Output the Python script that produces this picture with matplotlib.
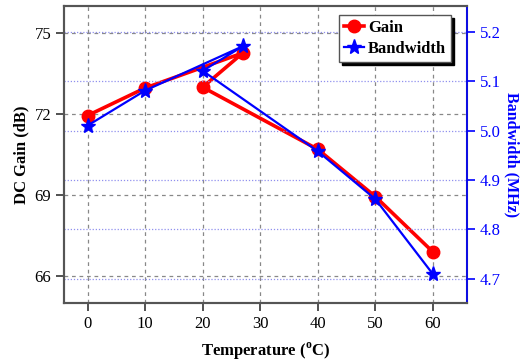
import matplotlib
matplotlib.use("Agg")
import matplotlib.pyplot as plt

temperature = [0, 10, 27, 20, 40, 50, 60]
gain_db = [71.95, 72.97, 74.27, 73.0, 70.7, 68.95, 66.9]
bandwidth_mhz = [5.01, 5.081, 5.171, 5.121, 4.958, 4.861, 4.709]
x_ticks = [0, 10, 20, 30, 40, 50, 60]
gain_ticks = [66, 69, 72, 75]
bw_ticks = [4.7, 4.8, 4.9, 5.0, 5.1, 5.2]

plt.rcParams['font.family'] = ['Liberation Serif', 'DejaVu Serif']
plt.rcParams['mathtext.fontset'] = 'custom'
plt.rcParams['mathtext.rm'] = 'Liberation Serif:bold'
plt.rcParams['mathtext.bf'] = 'Liberation Serif:bold'

fig = plt.figure(figsize=(5.2, 3.63), dpi=100)
ax = fig.add_axes([0.124, 0.1645, 0.775, 0.8185])
ax2 = ax.twinx()

spine_grey = '#555555'
for s in ax.spines.values():
    s.set_color(spine_grey)
    s.set_linewidth(1.5)
for s in ax2.spines.values():
    s.set_color(spine_grey)
    s.set_linewidth(1.5)
ax2.spines['right'].set_color('#0000ff')
ax2.spines['right'].set_linewidth(1.2)

ax.plot(temperature, gain_db, color='#ff0000', lw=2.6, marker='o', ms=9,
        label='Gain', zorder=3)
ax2.plot(temperature, bandwidth_mhz, color='#0000ff', lw=1.6, marker='*', ms=11,
         label='Bandwidth', zorder=3)

ax.set_xlim(-4, 66)
ax.set_ylim(65, 76)
ax2.set_ylim(4.65, 5.252)

ax.set_xticks(x_ticks)
ax.set_yticks(gain_ticks)
ax2.set_yticks(bw_ticks)
ax2.set_yticklabels([f'{v:.1f}' for v in bw_ticks])

ax.grid(True, color='#888888', linestyle=(0, (3, 3)), linewidth=0.9)
ax2.grid(True, axis='y', color='#9090ee', linestyle=(0, (1, 1.5)), linewidth=0.9)
ax.set_axisbelow(True)
ax2.set_axisbelow(True)

ax.tick_params(axis='both', direction='out', length=6, width=1.2, colors='#333333',
               labelsize=12, labelcolor='black')
ax2.tick_params(axis='y', direction='out', length=6, width=1.2, colors='#0000ff',
                labelsize=12, labelcolor='#0000ff', pad=3)

ax.set_xlabel(r'Temperature ($^{\mathrm{o}}$C)', fontsize=12, fontweight='bold', labelpad=6)
ax.set_ylabel('DC Gain (dB)', fontsize=12, fontweight='bold', labelpad=4)
ax2.set_ylabel('Bandwidth (MHz)', fontsize=11.5, fontweight='bold', color='#0000ff',
               rotation=270, va='center', ha='center', rotation_mode='anchor')
ax2.yaxis.set_label_coords(1.11, 0.5)

h1, l1 = ax.get_legend_handles_labels()
h2, l2 = ax2.get_legend_handles_labels()
leg = ax2.legend(h1 + h2, l1 + l2, loc='upper right', bbox_to_anchor=(0.96, 0.97),
                 fancybox=False, shadow={'color': 'black', 'alpha': 1.0},
                 framealpha=1, edgecolor='#555555', handlelength=1.2,
                 handletextpad=0.25, borderpad=0.3, labelspacing=0.3,
                 prop={'weight': 'bold', 'size': 12}, borderaxespad=0)
leg.get_frame().set_linewidth(1.0)

fig.savefig('out.png', dpi=100)
